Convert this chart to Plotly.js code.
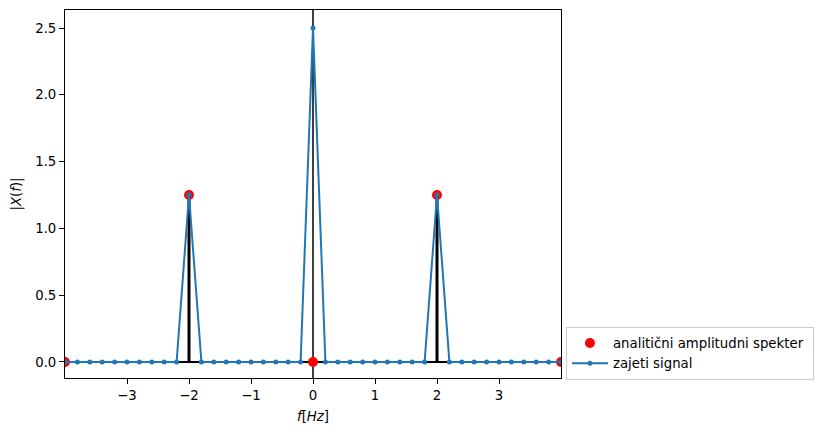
<!DOCTYPE html>
<html>
<head>
<meta charset="utf-8">
<script src="https://cdn.plot.ly/plotly-3.0.1.min.js"></script>
<style>html,body{margin:0;padding:0;background:#fff;}#chart{width:825px;height:435px;}</style>
</head>
<body>
<div id="chart"></div>
<script>
// analytic amplitude spectrum
const analyticFreq = [-4, -2, 0, 2, 4];
const analyticAmp  = [0, 1.25, 0, 1.25, 0];

// sampled signal spectrum
const signalFreq = [-4.0, -3.8, -3.6, -3.4, -3.2, -3.0, -2.8, -2.6, -2.4, -2.2,
                    -2.0, -1.8, -1.6, -1.4, -1.2, -1.0, -0.8, -0.6, -0.4, -0.2,
                     0.0,  0.2,  0.4,  0.6,  0.8,  1.0,  1.2,  1.4,  1.6,  1.8,
                     2.0,  2.2,  2.4,  2.6,  2.8,  3.0,  3.2,  3.4,  3.6,  3.8, 4.0];
const signalAmp  = [0, 0, 0, 0, 0, 0, 0, 0, 0, 0,
                    1.25, 0, 0, 0, 0, 0, 0, 0, 0, 0,
                    2.5, 0, 0, 0, 0, 0, 0, 0, 0, 0,
                    1.25, 0, 0, 0, 0, 0, 0, 0, 0, 0, 0];

const xTicks = [-3, -2, -1, 0, 1, 2, 3];
const yTicks = [0, 0.5, 1.0, 1.5, 2.0, 2.5];
const yTickLabels = ['0.0', '0.5', '1.0', '1.5', '2.0', '2.5'];

const stemX = [], stemY = [];
analyticFreq.forEach((f, i) => { stemX.push(f, f, null); stemY.push(0, analyticAmp[i], null); });

const font = {family: 'DejaVu Sans', size: 13.3, color: '#000'};

const traces = [
  {x: stemX, y: stemY, mode: 'lines', line: {color: '#000', width: 3}, showlegend: false, hoverinfo: 'skip'},
  {x: analyticFreq, y: analyticAmp, mode: 'markers', name: 'analitični amplitudni spekter ',
   marker: {color: '#ff0000', size: 10}},
  {x: signalFreq, y: signalAmp, mode: 'lines+markers', name: 'zajeti signal',
   line: {color: '#1f77b4', width: 2}, marker: {color: '#1f77b4', size: 5}}
];

const layout = {
  width: 825, height: 435,
  margin: {l: 65, r: 264, t: 10, b: 57},
  paper_bgcolor: '#fff', plot_bgcolor: '#fff',
  font: font,
  showlegend: true,
  xaxis: {
    range: [-4, 4], tickvals: xTicks, ticktext: xTicks.map(v => v < 0 ? '\u2212' + Math.abs(v) : String(v)),
    showgrid: false, zeroline: false, showline: true, mirror: true, linecolor: '#000', linewidth: 1,
    ticks: 'outside', ticklen: 5, tickcolor: '#000', tickfont: font,
    title: {text: '<i>f</i>[<i>Hz</i>]', font: font, standoff: 9}
  },
  yaxis: {
    range: [-0.12, 2.635], tickvals: yTicks, ticktext: yTickLabels,
    showgrid: false, zeroline: false, showline: true, mirror: true, linecolor: '#000', linewidth: 1,
    ticks: 'outside', ticklen: 5, tickcolor: '#000', tickfont: font,
    title: {text: '|<i>X</i>(<i>f</i>)|', font: font, standoff: 10}
  },
  shapes: [
    {type: 'line', xref: 'x', yref: 'paper', x0: 0, x1: 0, y0: 0, y1: 1, line: {color: '#000', width: 1.5}, layer: 'below'},
    {type: 'line', xref: 'paper', yref: 'y', x0: 0, x1: 1, y0: 0, y1: 0, line: {color: '#000', width: 2}, layer: 'below'}
  ],
  legend: {
    x: 1.01, xanchor: 'left', y: -0.005, yanchor: 'bottom',
    bgcolor: 'rgba(255,255,255,0.8)', bordercolor: '#cccccc', borderwidth: 1,
    font: font, tracegroupgap: 0, itemwidth: 36
  }
};

Plotly.newPlot('chart', traces, layout, {displayModeBar: false, staticPlot: true});
</script>
</body>
</html>
